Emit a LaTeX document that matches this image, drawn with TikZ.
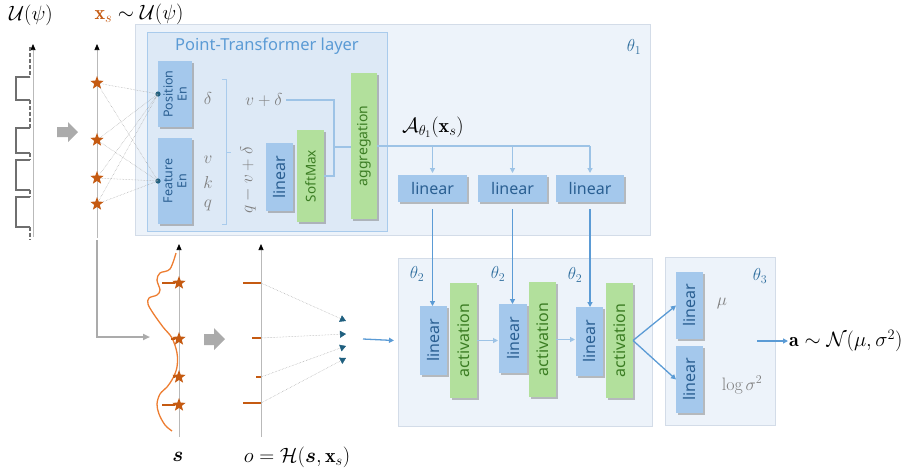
\documentclass[tikz,border=0pt]{standalone}
\usepackage{amsmath}
\usepackage{fontspec}
\setsansfont{Noto Sans}
\usetikzlibrary{shapes.geometric,arrows.meta,shadows}
\definecolor{panelbg}{HTML}{EDF3FA}
\definecolor{panelbd}{HTML}{D3DCE8}
\definecolor{ptbg}{HTML}{DDE9F6}
\definecolor{ptbd}{HTML}{A9CBEC}
\definecolor{bluebox}{HTML}{A4C8EC}
\definecolor{bluetxt}{HTML}{2A5F92}
\definecolor{greenbox}{HTML}{B2E09C}
\definecolor{greentxt}{HTML}{3B7D23}
\definecolor{arrblue}{HTML}{5B9BD5}
\definecolor{lightarr}{HTML}{9DC3E6}
\definecolor{starc}{HTML}{C55A11}
\definecolor{curvec}{HTML}{ED7D31}
\definecolor{tealc}{HTML}{1F5F7F}
\definecolor{thetac}{HTML}{2F6E9E}
\definecolor{mathgray}{HTML}{7F7F7F}
\definecolor{blockgray}{HTML}{ABABAB}
\definecolor{wavec}{HTML}{6F6F6F}
\begin{document}
\begin{tikzpicture}[x=1pt,y=-1pt,
  panel/.style={draw=panelbd, fill=panelbg, line width=0.6pt},
  bshadow/.style={drop shadow={shadow xshift=1.5pt,shadow yshift=-1.5pt,opacity=0.45,fill=black!55}},
  bbox/.style={fill=bluebox, bshadow, inner sep=0pt, outer sep=0pt},
  gbox/.style={fill=greenbox, bshadow, inner sep=0pt, outer sep=0pt},
  btxt/.style={text=bluetxt, font=\sffamily\fontsize{16}{17}\selectfont},
  gtxt/.style={text=greentxt, font=\sffamily\fontsize{16}{17}\selectfont},
  vb/.style={btxt, rotate=90},
  vg/.style={gtxt, rotate=90},
  mg/.style={text=mathgray, font=\fontsize{18}{20}\selectfont},
  mk/.style={font=\fontsize{20}{22}\selectfont},
  th/.style={text=thetac, font=\fontsize{18}{20}\selectfont},
  la/.style={draw=lightarr, line width=1.2pt},
  ba/.style={draw=arrblue, line width=1.3pt},
  tip/.style={-{Triangle[length=5pt,width=5pt]}},
  dotl/.style={draw=gray!70, densely dotted, line width=0.5pt},
  xstar/.style={shape=star, star points=5, star point ratio=2.4, minimum size=14pt, inner sep=0pt, fill=starc},
  axisl/.style={draw=gray!55, line width=0.7pt, -{Triangle[length=6pt,width=5pt,color=black]}},
  blockarr/.style={fill=blockgray, draw=none},
  bar/.style={draw=starc, line width=1.6pt}
]
\useasboundingbox (0,0) rectangle (918,472);

% ---------- panels ----------
\draw[panel] (135,24) rectangle (650,235);
\draw[draw=ptbd, fill=ptbg, line width=0.8pt] (147,32) rectangle (387,231);
\draw[panel] (398,258) rectangle (652,426);
\draw[panel] (665,257) rectangle (775,425);

\node[th] (th1) at (634,47) {$\theta_1$};
\node[th] (th2a) at (417,274) {$\theta_2$};
\node[th] (th2b) at (498,274) {$\theta_2$};
\node[th] (th2c) at (575,275) {$\theta_2$};
\node[th] (th3) at (760,276) {$\theta_3$};

\node[text=arrblue, font=\sffamily\fontsize{16.5}{17}\selectfont] (pttitle) at (267,46) {Point-Transformer layer};

% ---------- signal U(psi) ----------
\node[mk] (ulab) at (31,15) {$\mathcal{U}(\psi)$};
\draw[axisl] (33,237) -- (33,44);
\draw[wavec, line width=1.5pt, dashed, dash pattern=on 4pt off 2pt] (30,47) -- (30,77) (30,100) -- (30,128) (30,153) -- (30,160) (30,190) -- (30,197) (30,227) -- (30,240);
\draw[wavec, line width=1.5pt] (30,77) -- (16,77) -- (16,100) -- (30,100)
  (30,128) -- (16,128) -- (16,153) -- (30,153)
  (30,160) -- (16,160) -- (16,190) -- (30,190)
  (30,197) -- (16,197) -- (16,227) -- (30,227);
\fill[blockarr] (57,127) -- (68,127) -- (68,122) -- (78,132) -- (68,142) -- (68,137) -- (57,137) -- cycle;

% ---------- x_s axis ----------
\node[mk, anchor=west] (xslab) at (91,14) {$\color{starc}\mathbf{x}_{s}\color{black}\sim\mathcal{U}(\psi)$};
\draw[axisl] (97,238) -- (97,44);
\draw[blockgray, line width=2pt, -{Triangle[length=7pt,width=6pt]}] (97,240) -- (97,337) -- (150,337);
\node[xstar] (xs1) at (97,83) {};
\node[xstar] (xs2) at (97,140) {};
\node[xstar] (xs3) at (97,178) {};
\node[xstar] (xs4) at (97,204) {};

% ---------- point transformer ----------
\node[bbox, minimum width=34pt, minimum height=66pt, label={[vb, align=center, font=\sffamily\fontsize{12.5}{14}\selectfont]center:Position\\En}] (pos) at (175,94) {};
\node[bbox, minimum width=34pt, minimum height=86pt, label={[vb, align=center, font=\sffamily\fontsize{12.5}{14}\selectfont]center:Feature\\En}] (feat) at (175,181) {};
\fill[tealc] (pos.west) circle (2.6pt);
\fill[tealc] (feat.west) circle (2.6pt);
\foreach \s in {xs1,xs2,xs3,xs4}{
  \draw[dotl] (\s) -- (pos.west);
  \draw[dotl] (\s) -- (feat.west);
}
\node[mg] (delta) at (208,98) {$\delta$};
\node[mg] (vv) at (208,160) {$v$};
\node[mg] (kk) at (208,182) {$k$};
\node[mg] (qq) at (208,205) {$q$};
\draw[ptbd, line width=1pt] (222,79) -- (226,79) -- (226,224) -- (222,224) (226,152) -- (231,152);
\node[mg, rotate=90] (qvd) at (248,180) {$q-v+\delta$};
\node[mg] (vpd) at (264,100) {$v+\delta$};

\node[bbox, minimum width=27pt, minimum height=68pt, label={[vb]center:linear}] (plin) at (279.5,177) {};
\node[gbox, minimum width=27pt, minimum height=92pt, label={[vg, font=\sffamily\fontsize{13.5}{14}\selectfont]center:SoftMax}] (soft) at (310.5,176) {};
\node[gbox, minimum width=26pt, minimum height=146pt, label={[vg, font=\sffamily\fontsize{14}{15}\selectfont]center:aggregation}] (agg) at (364,146) {};
\coordinate (jn) at (334,147);
\draw[la] (vpd.east) -| (jn);
\draw[la] (soft.east) -| (jn);
\draw[la] (jn) -- (jn -| agg.west);

% ---------- linear heads ----------
\node[mk] (alab) at (433,127) {$\mathcal{A}_{\theta_1}(\mathbf{x}_s)$};
\node[bbox, minimum width=69pt, minimum height=27pt, label={[btxt]center:linear}] (h1) at (432.5,188.5) {};
\node[bbox, minimum width=69pt, minimum height=27pt, label={[btxt]center:linear}] (h2) at (512.5,188.5) {};
\node[bbox, minimum width=68pt, minimum height=27pt, label={[btxt]center:linear}] (h3) at (590,188.5) {};
\draw[la] (agg.east) -- (agg.east -| h3.north);
\draw[la, tip, shorten >=2pt] (h3.north |- agg.east) -- (h3.north);
\draw[la, tip, shorten >=2pt] (h1.north |- agg.east) -- (h1.north);
\draw[la, tip, shorten >=2pt] (h2.north |- agg.east) -- (h2.north);

% ---------- bottom panel ----------
\node[bbox, minimum width=27pt, minimum height=69pt, label={[vb]center:linear}] (l1) at (433.5,340.5) {};
\node[gbox, minimum width=27pt, minimum height=115pt, label={[vg]center:activation}] (a1) at (463.5,340.5) {};
\node[bbox, minimum width=28pt, minimum height=69pt, label={[vb]center:linear}] (l2) at (513,338.5) {};
\node[gbox, minimum width=27pt, minimum height=115pt, label={[vg]center:activation}] (a2) at (542.5,339.5) {};
\node[bbox, minimum width=27pt, minimum height=69pt, label={[vb]center:linear}] (l3) at (589.5,341.5) {};
\node[gbox, minimum width=27pt, minimum height=115pt, label={[vg]center:activation}] (a3) at (619.5,340.5) {};

\draw[ba, tip, shorten <=7pt] (h1.south) -- (h1.south |- l1.north);
\draw[ba, tip, shorten <=7pt] (h2.south) -- (h2.south |- l2.north);
\draw[ba, tip, shorten <=7pt] (h3.south) -- (h3.south |- l3.north);
\draw[la, tip, shorten >=1pt] (a1.east) -- (a1.east -| l2.west);
\draw[la, tip, shorten >=1pt] (a2.east) -- (a2.east -| l3.west);

% ---------- theta3 panel ----------
\node[bbox, minimum width=27pt, minimum height=67pt, label={[vb]center:linear}] (m1) at (689.5,305.5) {};
\node[bbox, minimum width=27pt, minimum height=67pt, label={[vb]center:linear}] (m2) at (689.5,379.5) {};
\draw[ba, tip] (a3.east) -- (m1.west);
\draw[ba, tip] (a3.east) -- (m2.west);
\node[mg] (mu) at (722,303) {$\mu$};
\node[mg] (lsig) at (742,385) {$\log\sigma^2$};
\coordinate (outs) at (757,341);
\node[mk, anchor=west, inner sep=1pt] (alabel) at (788,341) {$\mathbf{a}\sim\mathcal{N}(\mu,\sigma^2)$};
\draw[ba, tip] (outs) -- (alabel.west);

% ---------- s plot ----------
\draw[axisl] (179,437) -- (179,244);
\draw[curvec, line width=1.3pt] plot[smooth, tension=0.55] coordinates {(176,253) (170,269) (160,273) (157,280) (160,290) (157,295) (149,298) (148,304) (153,313) (163,327) (172,338) (177,353) (177,367) (173,378) (167,387) (160,394) (157,404) (159,414) (165,425) (172,431)};
\node[xstar] (ss1) at (179,283) {};
\node[xstar] (ss2) at (179,339) {};
\node[xstar] (ss3) at (179,377) {};
\node[xstar] (ss4) at (179,405) {};
\draw[bar] (162,283) -- (ss1);
\draw[bar] (171,339) -- (ss2);
\draw[bar] (173,377) -- (ss3);
\draw[bar] (162,405) -- (ss4);
\node[mk] (slab) at (178,457) {$\boldsymbol{s}$};
\fill[blockarr] (204,334) -- (214,334) -- (214,328) -- (225,339) -- (214,350) -- (214,345) -- (204,345) -- cycle;

% ---------- o plot ----------
\draw[axisl] (261,437) -- (261,244);
\draw[bar] (243,283) -- (261,283);
\draw[bar] (252,338) -- (261,338);
\draw[bar] (256,377) -- (261,377);
\draw[bar] (243,403) -- (261,403);
\coordinate (ob1) at (261,283);
\coordinate (ob2) at (261,338);
\coordinate (ob3) at (261,377);
\coordinate (ob4) at (261,403);
\coordinate (ot1) at (346,321);
\coordinate (ot2) at (346,334);
\coordinate (ot3) at (346,346);
\coordinate (ot4) at (346,358);
\foreach \i in {1,2,3,4}{
  \draw[dotl, -{Triangle[length=6pt,width=7pt,color=tealc]}] (ob\i) -- (ot\i);
}
\node[mk] (olab) at (297,457) {$o=\mathcal{H}(\boldsymbol{s},\mathbf{x}_s)$};
\coordinate (oin) at (363,339);
\draw[ba, tip] (oin) -- (l1.west -| 394,339);

\end{tikzpicture}
\end{document}
